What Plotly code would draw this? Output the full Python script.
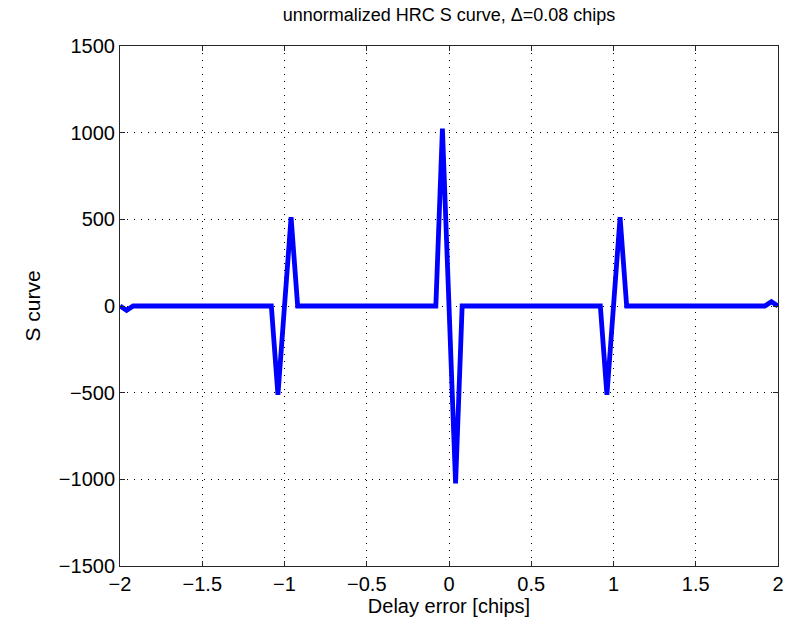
import plotly.graph_objects as go

# Delay error samples (chips) and S-curve values
delay = [-2.00, -1.96, -1.92, -1.12, -1.08, -1.04, -0.96, -0.92,
         -0.12, -0.08, -0.04, 0.04, 0.08,
         0.88, 0.92, 0.96, 1.04, 1.08, 1.92, 1.96, 2.00]
s_curve = [0, -25, 0, 0, 0, -512, 512, 0,
           0, 0, 1023, -1023, 0,
           0, 0, -512, 512, 0, 0, 25, 0]

x_ticks = [-2, -1.5, -1, -0.5, 0, 0.5, 1, 1.5, 2]
x_tick_text = ["\u22122", "\u22121.5", "\u22121", "\u22120.5", "0", "0.5", "1", "1.5", "2"]
y_ticks = [-1500, -1000, -500, 0, 500, 1000, 1500]
y_tick_text = ["\u22121500", "\u22121000", "\u2212500", "0", "500", "1000", "1500"]

fig = go.Figure()
fig.add_trace(go.Scatter(x=delay, y=s_curve, mode="lines",
                         line=dict(color="#0000FF", width=4.8), showlegend=False))

axis_common = dict(
    showline=True, linecolor="#262626", linewidth=1, mirror="ticks",
    ticks="inside", ticklen=5, tickcolor="#262626",
    showgrid=True, gridcolor="#000000", gridwidth=1, griddash="1px,6px",
    zeroline=False, automargin=False,
    tickfont=dict(family="Liberation Sans, Arial, sans-serif", size=20, color="#000000"),
)

fig.update_layout(
    width=786, height=630,
    margin=dict(l=120, r=8, t=46, b=64),
    paper_bgcolor="white", plot_bgcolor="white",
    font=dict(family="Liberation Sans, Arial, sans-serif", color="#000000"),
    title=dict(text="unnormalized HRC S curve, \u0394=0.08 chips",
               x=0.5713, xanchor="center", y=0.977, yanchor="middle",
               font=dict(size=18, color="#000000")),
    xaxis=dict(range=[-2, 2], tickvals=x_ticks, ticktext=x_tick_text,
               title=dict(text="Delay error [chips]", font=dict(size=20), standoff=4),
               **axis_common),
    yaxis=dict(range=[-1500, 1500], tickvals=y_ticks, ticktext=y_tick_text,
               title=dict(text="S curve", font=dict(size=21), standoff=12),
               **axis_common),
)

fig.write_html("out.html")
